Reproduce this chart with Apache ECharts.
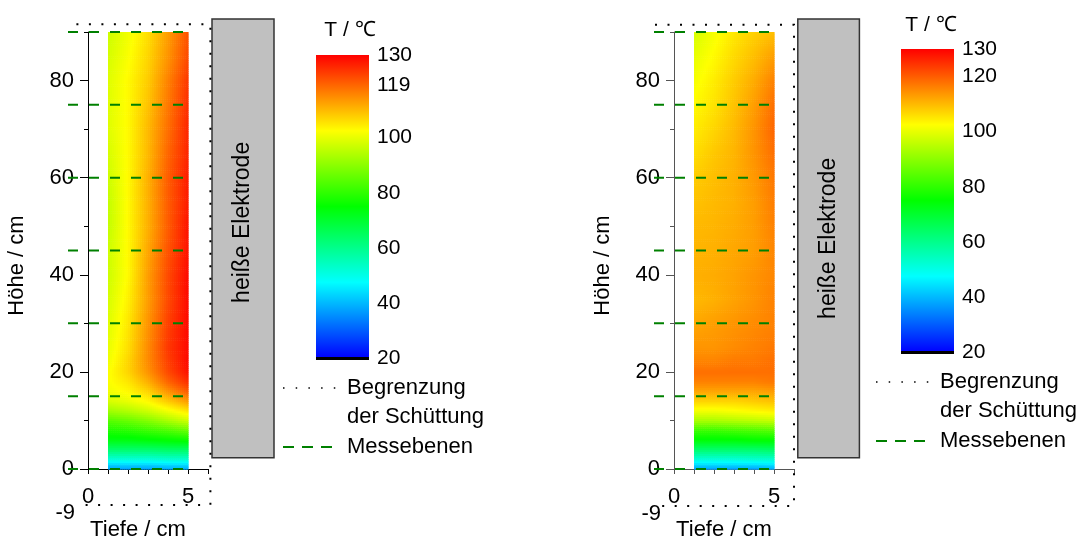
<!DOCTYPE html>
<html>
<head>
<meta charset="utf-8">
<script src="https://cdn.jsdelivr.net/npm/echarts@6/dist/echarts.min.js"></script>
<style>html,body{margin:0;padding:0;background:#fff}#c{width:1081px;height:546px}</style>
</head>
<body>
<div id="c"></div>
<script>
// ---------------- data ----------------
const depths = [1, 2, 3, 4, 5];                       // Tiefe / cm (heat-map columns)
const heights = [0, 1, 2, 4, 6, 8, 10, 12, 14, 16, 18, 20, 22, 25, 30, 35, 40, 45, 50, 55, 60, 65, 70, 75, 80, 85, 90]; // Höhe / cm
// temperature in °C, one row per height, one column per depth
const tempLeft = [
  [37, 37, 37, 38, 38],
  [43, 43, 43, 44, 44],
  [51, 51, 51, 52, 52],
  [63, 63, 63, 64, 64],
  [73, 73, 74, 75, 76],
  [78, 79, 81, 83, 86],
  [84, 86, 89, 93, 97],
  [92, 94, 97, 101, 105],
  [98, 100, 103, 108, 113],
  [101, 103, 107, 114, 120],
  [102, 105, 111, 119, 125],
  [102, 107, 114, 122, 128],
  [101, 107, 115, 123, 129],
  [100, 106, 115, 124, 129],
  [99, 105, 114, 123, 129],
  [98, 104, 113, 122, 129],
  [97, 103, 113, 122, 129],
  [97, 103, 112, 121, 128],
  [96, 103, 111, 120, 128],
  [96, 103, 111, 120, 127],
  [97, 103, 111, 120, 127],
  [98, 103, 110, 119, 126],
  [99, 103, 110, 118, 126],
  [99, 103, 109, 117, 125],
  [99, 103, 108, 116, 124],
  [98, 102, 107, 114, 122],
  [97, 101, 106, 113, 121]
];
const tempRight = [
  [37, 37, 37, 37, 38],
  [44, 44, 44, 44, 45],
  [51, 51, 51, 52, 52],
  [63, 63, 63, 63, 64],
  [74, 74, 74, 75, 75],
  [81, 81, 82, 83, 84],
  [93, 93, 94, 95, 96],
  [101, 101, 102, 103, 104],
  [107, 107, 107, 108, 109],
  [112, 112, 112, 112, 113],
  [116, 116, 116, 116, 117],
  [118, 118, 118, 118, 118],
  [116, 116, 117, 117, 118],
  [114, 114, 115, 116, 117],
  [112, 113, 114, 115, 116],
  [110, 111, 112.5, 114, 116],
  [111, 111.5, 112.5, 114, 115.5],
  [110.5, 111, 112, 113, 115.5],
  [110, 110.5, 111.5, 113, 116],
  [109, 110, 111, 113, 116.5],
  [108, 109.5, 111, 113.5, 117],
  [106, 108.5, 110.5, 114, 118],
  [104.5, 107, 110, 114, 119],
  [103, 105.5, 109, 113, 118],
  [101.5, 104.5, 108, 111.5, 116],
  [100, 103, 106.5, 109.5, 113],
  [98, 101.5, 105, 107.5, 109.5]
];
const measurementLevels = [0, 15, 30, 45, 60, 75, 90];   // Messebenen / cm
const yTickLabels = [0, 20, 40, 60, 80];
const yMinorTicks = [10, 30, 50, 70, 90];
const xTickLabels = [0, 5];
const xTicks = [0, 1, 2, 3, 4, 5, 6];
const bedBottomLabel = '-9';
const cbarLabelsLeft = [20, 40, 60, 80, 100, 119, 130];
const cbarLabelsRight = [20, 40, 60, 80, 100, 120, 130];
const cbarRange = [20, 130];
const colorStops = [[20, '#0000ff'], [47.5, '#00ffff'], [75, '#00ff00'], [102.5, '#ffff00'], [130, '#ff0000']];

// ---------------- helpers ----------------
const FONT = '"Liberation Sans", Arial, sans-serif';
function hexToRgb(h) { return [parseInt(h.slice(1, 3), 16), parseInt(h.slice(3, 5), 16), parseInt(h.slice(5, 7), 16)]; }
const stopsRgb = colorStops.map(s => [s[0], hexToRgb(s[1])]);
function colorOf(t) {
  let c;
  if (t <= stopsRgb[0][0]) c = stopsRgb[0][1];
  else if (t >= stopsRgb[stopsRgb.length - 1][0]) c = stopsRgb[stopsRgb.length - 1][1];
  else {
    for (let k = 1; k < stopsRgb.length; k++) {
      if (t <= stopsRgb[k][0]) {
        const a = stopsRgb[k - 1], b = stopsRgb[k];
        const f = (t - a[0]) / (b[0] - a[0]);
        c = a[1].map((v, i) => Math.round(v + (b[1][i] - v) * f));
        break;
      }
    }
  }
  return 'rgb(' + c[0] + ',' + c[1] + ',' + c[2] + ')';
}
function cells(T) {
  const out = [];
  for (let j = 0; j < heights.length - 1; j++)
    for (let i = 0; i < depths.length - 1; i++)
      out.push([depths[i], depths[i + 1], heights[j], heights[j + 1], T[j][i], T[j][i + 1], T[j + 1][i], T[j + 1][i + 1]]);
  return out;
}
function heatRender(params, api) {
  const x0 = api.value(0), x1 = api.value(1), y0 = api.value(2), y1 = api.value(3);
  const t00 = api.value(4), t10 = api.value(5), t01 = api.value(6), t11 = api.value(7);
  const p0 = api.coord([x0, y0]), p1 = api.coord([x1, y1]);
  const w = p1[0] - p0[0], h = p0[1] - p1[1];
  const nx = Math.max(1, Math.ceil(w / 2)), ny = Math.max(1, Math.ceil(h / 2));
  const children = [];
  for (let a = 0; a < nx; a++) for (let b = 0; b < ny; b++) {
    const u = (a + 0.5) / nx, v = (b + 0.5) / ny;
    const t = t00 * (1 - u) * (1 - v) + t10 * u * (1 - v) + t01 * (1 - u) * v + t11 * u * v;
    children.push({ type: 'rect', silent: true,
      shape: { x: p0[0] + a * w / nx, y: p0[1] - (b + 1) * h / ny, width: w / nx + 0.6, height: h / ny + 0.6 },
      style: { fill: colorOf(t) } });
  }
  return { type: 'group', children };
}

// decoration geometry (axis units) per panel
const deco = [
  { box: { x0: -0.58, x1: 6.12, y0: -7.4, y1: 91.6 }, elec: { x0: 6.2, x1: 9.3, y0: 2.3, y1: 92.7 }, mess: { x0: -1.0, x1: 4.95 }, axisColor: '#000' },
  { box: { x0: -0.95, x1: 6.0, y0: -7.6, y1: 91.5 }, elec: { x0: 6.19, x1: 9.27, y0: 2.3, y1: 92.7 }, mess: { x0: -1.0, x1: 4.75 }, axisColor: '#555' }
];

function boundaryRender(p) {
  return function (params, api) {
    const b = deco[p].box;
    const pts = [[b.x0, b.y1], [b.x1, b.y1], [b.x1, b.y0], [b.x0, b.y0]].map(q => api.coord(q));
    const lbl = api.coord([0, b.y0]);
    return { type: 'group', children: [
      { type: 'polyline', silent: true, shape: { points: pts }, style: { stroke: '#000', lineWidth: 2, lineDash: [2, 10.5], fill: null } },
      { type: 'text', silent: true, x: lbl[0] - 13, y: lbl[1] + 8,
        style: { text: bedBottomLabel, align: 'right', verticalAlign: 'middle', fontSize: 22, fontFamily: FONT, fill: '#000' } }
    ] };
  };
}
function messRender(p) {
  return function (params, api) {
    const m = deco[p].mess, v = api.value(0);
    const a = api.coord([m.x0, v]), b = api.coord([m.x1, v]);
    return { type: 'line', silent: true, shape: { x1: a[0], y1: a[1], x2: b[0], y2: b[1] },
      style: { stroke: '#008000', lineWidth: 2, lineDash: [10, 11] } };
  };
}
function elecRender(p) {
  return function (params, api) {
    const e = deco[p].elec;
    const a = api.coord([e.x0, e.y1]), b = api.coord([e.x1, e.y0]);
    return { type: 'group', children: [
      { type: 'rect', silent: true, shape: { x: a[0], y: a[1], width: b[0] - a[0], height: b[1] - a[1] },
        style: { fill: '#c0c0c0', stroke: '#333', lineWidth: 1.5 } },
      { type: 'text', silent: true, x: (a[0] + b[0]) / 2, y: (a[1] + b[1]) / 2 - (p === 0 ? 16 : 0), rotation: Math.PI / 2,
        style: { text: 'heiße Elektrode', align: 'center', verticalAlign: 'middle', fontSize: 23, fontFamily: FONT, fill: '#000' } }
    ] };
  };
}
function cbarRender(params, api) {
  const a = api.coord([0, cbarRange[1]]), b = api.coord([1, cbarRange[0]]);
  const span = cbarRange[1] - cbarRange[0];
  const stops = colorStops.map(s => ({ offset: (cbarRange[1] - s[0]) / span, color: s[1] })).sort((m, n) => m.offset - n.offset);
  return { type: 'group', children: [
    { type: 'rect', silent: true, shape: { x: a[0], y: a[1], width: b[0] - a[0], height: b[1] - a[1] },
      style: { fill: new echarts.graphic.LinearGradient(0, 0, 0, 1, stops) } },
    { type: 'rect', silent: true, shape: { x: a[0], y: b[1] - 1, width: b[0] - a[0], height: 3 }, style: { fill: '#000' } }
  ] };
}

// ---------------- option ----------------
const grids = [
  { left: 88, top: 32, width: 120, height: 440 },
  { left: 674, top: 32, width: 120, height: 440 },
  { left: 316, top: 55, width: 53, height: 303 },
  { left: 901, top: 49, width: 53, height: 303 }
];
const txt = { color: '#000', fontFamily: FONT };

function panelX(p) {
  const c = deco[p].axisColor;
  return { gridIndex: p, type: 'value', min: 0, max: 6,
    axisLine: { show: true, onZero: false, lineStyle: { color: c, width: 1 } },
    axisTick: { show: true, customValues: xTicks, length: 5, lineStyle: { color: c } },
    axisLabel: { customValues: xTickLabels, margin: 17, fontSize: 22, ...txt },
    splitLine: { show: false },
    name: 'Tiefe / cm', nameLocation: 'middle', nameGap: 50,
    nameTextStyle: { fontSize: 22, ...txt, padding: [0, 20, 0, 0] } };
}
function panelY(p) {
  const c = deco[p].axisColor;
  return [
    { gridIndex: p, type: 'value', min: 0, max: 90, position: 'left',
      axisLine: { show: true, onZero: false, lineStyle: { color: c, width: 1 } },
      axisTick: { show: true, customValues: yTickLabels, length: 8, lineStyle: { color: c } },
      axisLabel: { customValues: yTickLabels, margin: 14, fontSize: 22, ...txt },
      splitLine: { show: false },
      name: 'Höhe / cm', nameLocation: 'middle', nameGap: 60,
      nameTextStyle: { fontSize: 22, ...txt, padding: [0, 30, 0, 0] } },
    { gridIndex: p, type: 'value', min: 0, max: 90, position: 'left', offset: 0,
      axisLine: { show: false }, axisLabel: { show: false }, splitLine: { show: false },
      axisTick: { show: true, customValues: yMinorTicks, length: 4, lineStyle: { color: c } } }
  ];
}
function cbarY(g, labels) {
  return { gridIndex: g, type: 'value', min: cbarRange[0], max: cbarRange[1], position: 'right',
    axisLine: { show: false }, axisTick: { show: false }, splitLine: { show: false },
    axisLabel: { customValues: labels, margin: 8, fontSize: 21, ...txt } };
}

const xAxis = [panelX(0), panelX(1),
  { gridIndex: 2, type: 'value', min: 0, max: 1, show: false },
  { gridIndex: 3, type: 'value', min: 0, max: 1, show: false }];
const yAxis = [...panelY(0), ...panelY(1), cbarY(2, cbarLabelsLeft), cbarY(3, cbarLabelsRight)];

const series = [];
[tempLeft, tempRight].forEach((T, p) => {
  const yi = p * 2;
  series.push({ type: 'custom', name: 'T', xAxisIndex: p, yAxisIndex: yi, renderItem: heatRender,
    data: cells(T), encode: { x: [0, 1], y: [2, 3] }, silent: true, z: 1 });
  series.push({ type: 'custom', name: 'heiße Elektrode', xAxisIndex: p, yAxisIndex: yi, renderItem: elecRender(p),
    data: [[0]], silent: true, z: 2 });
  series.push({ type: 'custom', name: 'Begrenzung der Schüttung', xAxisIndex: p, yAxisIndex: yi, renderItem: boundaryRender(p),
    data: [[0]], silent: true, z: 3 });
  series.push({ type: 'custom', name: 'Messebenen', xAxisIndex: p, yAxisIndex: yi, renderItem: messRender(p),
    data: measurementLevels.map(v => [v]), encode: { y: 0 }, silent: true, z: 4 });
});
series.push({ type: 'custom', name: 'Farbskala links', xAxisIndex: 2, yAxisIndex: 4, renderItem: cbarRender, data: [[0]], silent: true });
series.push({ type: 'custom', name: 'Farbskala rechts', xAxisIndex: 3, yAxisIndex: 5, renderItem: cbarRender, data: [[0]], silent: true });

function legendGraphics(x0, y0, tx, ty) {
  const ts = { fontSize: 22, fontFamily: FONT, fill: '#000', align: 'left', verticalAlign: 'middle' };
  return [
    { type: 'text', x: tx, y: ty, style: { text: 'T / ℃', fontSize: 21, fontFamily: FONT, fill: '#000', align: 'center', verticalAlign: 'middle' } },
    { type: 'line', shape: { x1: x0, y1: y0, x2: x0 + 53, y2: y0 }, style: { stroke: '#000', lineWidth: 1.5, lineDash: [1.5, 11.2] } },
    { type: 'text', x: x0 + 64, y: y0, style: { text: 'Begrenzung', ...ts } },
    { type: 'text', x: x0 + 64, y: y0 + 29, style: { text: 'der Schüttung', ...ts } },
    { type: 'line', shape: { x1: x0, y1: y0 + 59, x2: x0 + 52, y2: y0 + 59 }, style: { stroke: '#008000', lineWidth: 2, lineDash: [11, 8] } },
    { type: 'text', x: x0 + 64, y: y0 + 59, style: { text: 'Messebenen', ...ts } }
  ];
}

const chart = echarts.init(document.getElementById('c'), null, { renderer: 'canvas' });
chart.setOption({
  animation: false,
  backgroundColor: '#fff',
  grid: grids,
  xAxis, yAxis, series,
  graphic: [...legendGraphics(283, 388, 350, 30), ...legendGraphics(876, 382, 931, 25)]
});
</script>
</body>
</html>
